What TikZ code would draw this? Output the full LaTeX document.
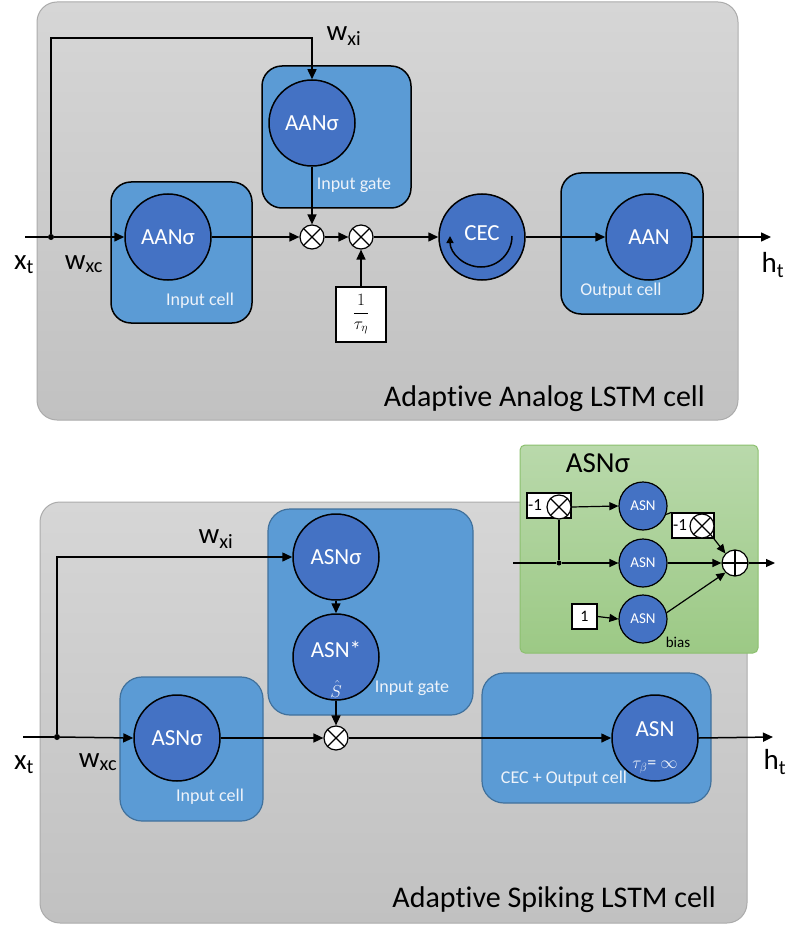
\documentclass[tikz,border=0pt]{standalone}
\usepackage{fontspec}
\setmainfont{Carlito}[Ligatures={NoCommon,NoRare,NoContextual},RawFeature={-liga;-dlig}]
\usetikzlibrary{arrows.meta,calc}
\definecolor{ptop}{HTML}{D6D6D6}
\definecolor{pbot}{HTML}{C1C1C1}
\definecolor{panelline}{HTML}{ABABAB}
\definecolor{boxblue}{HTML}{5B9BD5}
\definecolor{cirblue}{HTML}{4472C4}
\definecolor{boxline}{HTML}{41719C}
\definecolor{gtop}{HTML}{B9D9AB}
\definecolor{gbot}{HTML}{9CC985}
\definecolor{gline}{HTML}{8CC06F}
\definecolor{lbl}{HTML}{EEF3FA}
\begin{document}
\begin{tikzpicture}[x=1pt,y=-1pt]
\tikzset{
 conn/.style={line width=1.5pt},
 arr/.style={conn,-{Triangle[length=10pt,width=9pt]}},
 sarr/.style={line width=1.2pt,-{Triangle[length=9pt,width=8pt]}},
 panel/.style={draw=panelline,line width=1pt,rounded corners=20pt,top color=ptop,bottom color=pbot,inner sep=0pt},
 cellbox/.style={draw=black,line width=1.5pt,rounded corners=20pt,fill=boxblue,inner sep=0pt},
 cellboxb/.style={draw=boxline,line width=1.2pt,rounded corners=22pt,fill=boxblue,inner sep=0pt},
 greenbox/.style={draw=gline,line width=1pt,rounded corners=5pt,top color=gtop,bottom color=gbot,inner sep=0pt},
 neuron/.style={circle,draw=black,line width=1.5pt,fill=cirblue,minimum size=86pt,inner sep=0pt,text=white,font=\fontsize{23}{27}\selectfont},
 sneuron/.style={circle,draw=black,line width=1.2pt,fill=cirblue,minimum size=48pt,inner sep=0pt,text=white,font=\fontsize{15}{18}\selectfont},
 mult/.style={circle,draw=black,line width=1.2pt,fill=white,minimum size=24pt,inner sep=0pt,
   path picture={\draw[line width=1.2pt] (path picture bounding box.north west)--(path picture bounding box.south east)
     (path picture bounding box.north east)--(path picture bounding box.south west);}},
 plusn/.style={circle,draw=black,line width=1.2pt,fill=white,minimum size=26pt,inner sep=0pt,
   path picture={\draw[line width=1.2pt] (path picture bounding box.north)--(path picture bounding box.south)
     (path picture bounding box.east)--(path picture bounding box.west);}},
 wbox/.style={draw=black,line width=1.2pt,fill=white,inner sep=0pt},
 boxlabel/.style={text=lbl,font=\fontsize{18}{21}\selectfont,inner sep=0pt},
 biglabel/.style={text=black,font=\fontsize{29}{33}\selectfont,inner sep=0pt},
 title/.style={text=black,font=\fontsize{30}{34}\selectfont,inner sep=0pt},
 small/.style={text=black,font=\fontsize{17}{19}\selectfont,inner sep=0pt},
 dot/.style={circle,fill=black,minimum size=6pt,inner sep=0pt}
}
\useasboundingbox (0,0) rectangle (786,925);

% ================= TOP PANEL =================
\node[panel,minimum width=701pt,minimum height=418pt] (P1) at (387.5,211) {};
\node[title,anchor=east] (T1) at (705,399) {Adap\kern0pt tive Analog LSTM cell};

\node[cellbox,minimum width=141pt,minimum height=141pt] (ICa) at (181.5,252.5) {};
\node[cellbox,minimum width=149pt,minimum height=142pt] (IGa) at (336.5,137) {};
\node[cellbox,minimum width=142pt,minimum height=141pt] (OCa) at (632,243.5) {};

\node[neuron] (AANin) at (168,237) {AANσ};
\node[neuron] (AANg) at (312,123) {AANσ};
\node[neuron] (CEC) at (482,237) {};
\node[neuron] (AANout) at (649,237) {AAN};
\node[text=white,font=\fontsize{23}{27}\selectfont,inner sep=0pt] (CECt) at (482,233) {CEC};
\draw[line width=1.5pt,-{Triangle[length=7pt,width=7pt]}] (512,236) arc[start angle=0,end angle=180,radius=31];

\node[boxlabel] (lIC) at (200,301) {Input cell};
\node[boxlabel] (lIG) at (354,185) {Input gate};
\node[boxlabel] (lOC) at (621,291) {Output cell};

\node[mult] (m1) at (312,237) {};
\node[mult] (m2) at (361,237) {};
\node[wbox,minimum width=50pt,minimum height=55pt,font=\fontsize{17}{19}\selectfont] (tau) at (361,314.5) {$\displaystyle\frac{1}{\tau_\eta}$};

\coordinate (xin1) at (25,237);
\node[dot] (d1) at (51,237) {};
\coordinate (c1) at (312,38);
\coordinate (hout1) at (771,237);

\draw[conn] (xin1) -- (d1);
\draw[arr] (d1) -- (AANin.west);
\draw[arr] (d1) |- (c1) -- (AANg.north);
\draw[arr] (AANin.east) -- (m1.west);
\draw[arr] (AANg.south) -- (m1.north);
\draw[arr] (m1.east) -- (m2.west);
\draw[arr] (tau.north) -- (m2.south);
\draw[arr] (m2.east) -- (CEC.west);
\draw[arr] (CEC.east) -- (AANout.west);
\draw[arr] (AANout.east) -- (hout1);

\node[biglabel] (xt1) at (24,265) {x\textsubscript{t}};
\node[biglabel] (wxc1) at (84,264) {w\textsubscript{xc}};
\node[biglabel] (wxi1) at (344,36) {w\textsubscript{xi}};
\node[biglabel] (ht1) at (773,265) {h\textsubscript{t}};

% ================= BOTTOM PANEL =================
\node[panel,minimum width=707pt,minimum height=421pt] (P2) at (393.5,712.5) {};
\node[title,anchor=east] (T2) at (716,900) {Adap\kern0pt tive Spiking LSTM cell};

\node[cellboxb,minimum width=143pt,minimum height=144pt] (ICb) at (191.5,749) {};
\node[cellboxb,minimum width=205pt,minimum height=206pt] (IGb) at (370.5,612) {};
\node[cellboxb,minimum width=229pt,minimum height=130pt] (OCb) at (596.5,738) {};

\node[neuron] (ASNin) at (177,738) {ASNσ};
\node[neuron] (ASNg) at (336,557) {ASNσ};
\node[neuron] (ASNs) at (336,657) {};
\node[neuron] (ASNo) at (655,738) {};
\node[text=white,font=\fontsize{23}{27}\selectfont,inner sep=0pt] (ASNst) at (336,649) {ASN*};
\node[text=white,font=\fontsize{18}{20}\selectfont,inner sep=0pt] (shat) at (336,689) {$\hat{S}$};
\node[text=white,font=\fontsize{23}{27}\selectfont,inner sep=0pt] (ASNot) at (655,729) {ASN};
\node[text=lbl,font=\fontsize{18}{20}\selectfont,inner sep=0pt] (taub) at (655,767) {$\tau_\beta$= $\infty$};

\node[boxlabel] (lICb) at (210,797) {Input cell};
\node[boxlabel] (lIGb) at (412,688) {Input gate};
\node[boxlabel] (lOCb) at (564,779) {CEC + Output cell};

\node[mult] (mb) at (336,738) {};

\coordinate (xin2) at (23,737);
\node[dot] (d2) at (57,737) {};
\coordinate (hout2) at (773,737);

\draw[conn] (xin2) -- (d2);
\draw[arr] (d2) -- (ASNin.west);
\draw[arr] (d2) |- (ASNg.west);
\draw[arr] (ASNg.south) -- (ASNs.north);
\draw[arr] (ASNs.south) -- (mb.north);
\draw[arr] (ASNin.east) -- (mb.west);
\draw[arr] (mb.east) -- (ASNo.west);
\draw[arr] (ASNo.east) -- (hout2);

\node[biglabel] (xt2) at (24,765) {x\textsubscript{t}};
\node[biglabel] (wxc2) at (98,762) {w\textsubscript{xc}};
\node[biglabel] (wxi2) at (216,539) {w\textsubscript{xi}};
\node[biglabel] (ht2) at (775,762) {h\textsubscript{t}};

% ================= GREEN ASN sigma =================
\node[greenbox,minimum width=238pt,minimum height=208pt] (G) at (639,549) {};
\node[text=black,font=\fontsize{29}{33}\selectfont,inner sep=0pt] (Gt) at (598,463) {ASNσ};

\node[sneuron] (asn1) at (643,506) {ASN};
\node[sneuron] (asn2) at (643,563) {ASN};
\node[sneuron] (asn3) at (643,619) {ASN};
\node[plusn] (plus) at (735,563) {};

\node[wbox,minimum width=44pt,minimum height=25pt] (gb1) at (549,505.5) {};
\node[small,anchor=west] (gb1t) at (528,505.5) {-1};
\node[mult] (gm1) at (559,507) {};
\node[wbox,minimum width=42pt,minimum height=25pt] (gb2) at (693,525.5) {};
\node[small,anchor=west] (gb2t) at (673,525.5) {-1};
\node[mult] (gm2) at (702,526) {};
\node[wbox,minimum width=25pt,minimum height=25pt,font=\fontsize{16}{18}\selectfont] (one) at (584.5,616.5) {1};
\node[text=black,font=\fontsize{15}{17}\selectfont,inner sep=0pt] (bias) at (678,642) {bias};

\coordinate (gin) at (513,563);
\node[dot,minimum size=5pt] (gd) at (559,563) {};
\coordinate (gout) at (775,563);

\draw[line width=1.2pt] (gin) -- (gd);
\draw[sarr] (gd) -- (asn2.west);
\draw[line width=1.2pt] (gd) -- (gm1.south);
\draw[sarr] (gm1.east) -- (asn1.west);
\draw[line width=1.2pt] (asn1.-20) -- (gb2.north west);
\draw[sarr] (gm2.south east) -- (plus.north west);
\draw[sarr] (asn2.east) -- (plus.west);
\draw[sarr] (one.east) -- (asn3.west);
\draw[sarr] (asn3.15) -- (plus.south west);
\draw[sarr] (plus.east) -- (gout);
\end{tikzpicture}
\end{document}
